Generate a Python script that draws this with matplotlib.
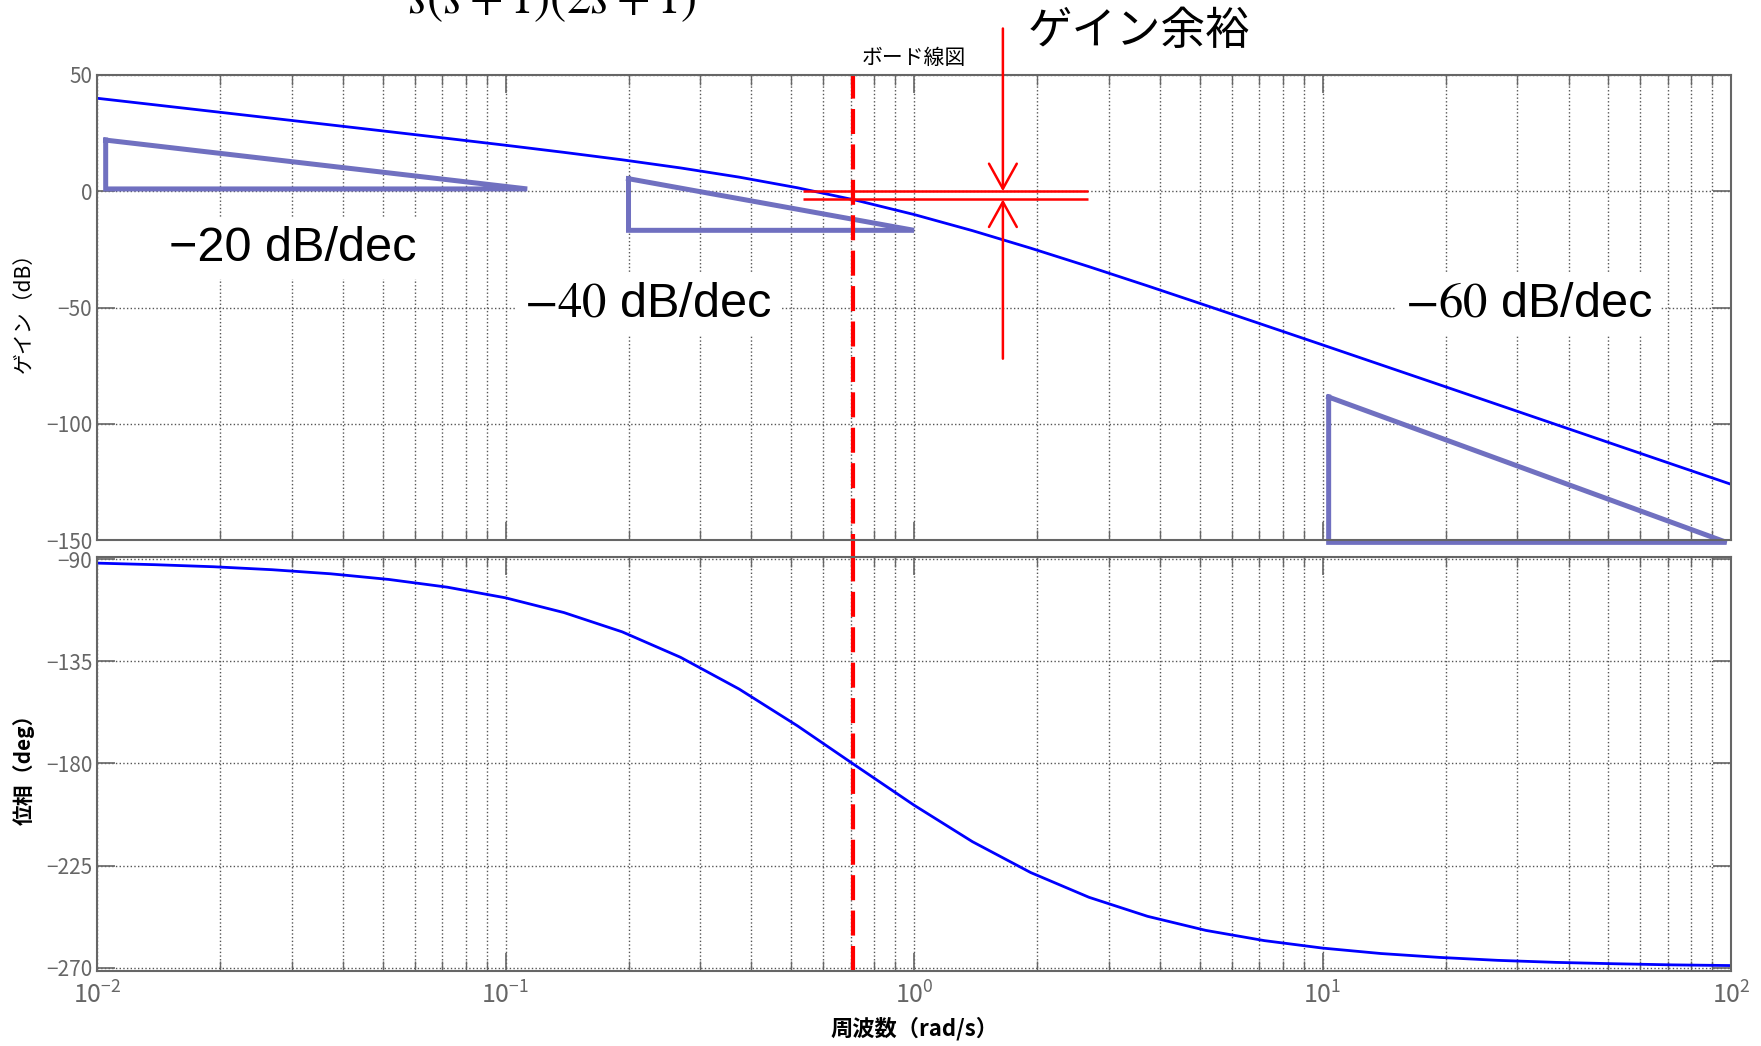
import matplotlib.pyplot as plt
from matplotlib import font_manager

plt.rcParams['font.family'] = ['Noto Sans CJK JP', 'DejaVu Sans']
plt.rcParams['mathtext.fontset'] = 'stix'

# Bode plot readings for G(s) = 1 / (s(s+1)(2s+1))
freq = [0.01, 0.0139, 0.0193, 0.0268, 0.0373, 0.0518, 0.072, 0.1,
        0.139, 0.193, 0.268, 0.373, 0.518, 0.72, 1.0, 1.39, 1.93, 2.68,
        3.73, 5.18, 7.2, 10, 13.9, 19.3, 26.8, 37.3, 51.8, 72, 100]
gain_db = [40.0, 37.14, 34.28, 31.42, 28.54, 25.65, 22.74, 19.79,
           16.73, 13.53, 10.04, 6.08, 1.51, -3.84, -10.0, -16.94, -24.47,
           -32.42, -40.69, -49.08, -57.57, -66.07, -74.63, -83.16, -91.71,
           -100.33, -108.89, -117.47, -126.02]
phase_deg = [-91.7, -92.4, -93.3, -94.6, -96.4, -98.9, -102.3, -107.0,
             -113.5, -122.0, -133.2, -147.2, -163.4, -181.0, -198.4, -214.5,
             -228.1, -239.0, -247.4, -253.6, -258.1, -261.4, -263.8, -265.5,
             -266.8, -267.7, -268.3, -268.8, -269.1]

gain_ticks = [50, 0, -50, -100, -150]
phase_ticks = [-90, -135, -180, -225, -270]

# slope triangles (frequency, dB)
tri20_w = [0.0105, 0.0105, 0.113, 0.0105]
tri20_db = [22, 1, 1, 22]
tri40_w = [0.2, 0.2, 1.0, 0.2]
tri40_db = [5.4, -16.8, -16.8, 5.4]
tri60_w = [10.35, 10.35, 97.5, 10.35]
tri60_db = [-88.5, -151, -151, -88.5]

# gain margin markers
w_pc = 0.707
gm_db = -3.5
gm_span = [0.534, 2.67]
gm_arrow_w = 1.65

blue = '#0000ff'
tri_col = '#7070c0'
gray = '#666666'

names = {f.name for f in font_manager.fontManager.ttflist}
tick_font = 'Liberation Sans Narrow' if 'Liberation Sans Narrow' in names else 'Noto Sans CJK JP'

fig = plt.figure(figsize=(17.61, 10.46), dpi=100)
ax1 = fig.add_axes([0.0551, 0.4837, 0.9279, 0.4446])
ax2 = fig.add_axes([0.0551, 0.0717, 0.9279, 0.3958], sharex=ax1)

for ax in (ax1, ax2):
    ax.set_xscale('log')
    ax.grid(True, which='both', axis='x', ls=':', color='#555555', lw=1.0)
    ax.grid(True, which='major', axis='y', ls=':', color='#555555', lw=1.0)
    ax.tick_params(which='both', direction='in', top=True, right=True,
                   color=gray, labelcolor=gray, labelsize=15,
                   labelfontfamily=tick_font)
    ax.tick_params(which='major', length=13, width=1.2)
    ax.tick_params(which='minor', length=7, width=1.0)
    for s in ax.spines.values():
        s.set_color(gray)
        s.set_linewidth(1.5)

ax1.set_xlim(0.01, 100)

# gain
ax1.plot(freq, gain_db, color=blue, lw=2)
ax1.set_ylim(-150, 50)
ax1.set_yticks(gain_ticks)
ax1.tick_params(labelbottom=False)
ax1.set_ylabel('ゲイン（dB）', fontsize=15)
ax1.yaxis.set_label_coords(-0.038, 0.5)
ax1.set_title('ボード線図', fontsize=15, pad=8)

for tw, tdb in [(tri20_w, tri20_db), (tri40_w, tri40_db), (tri60_w, tri60_db)]:
    ax1.plot(tw, tdb, color=tri_col, lw=3.6, clip_on=False, solid_joinstyle='miter')

box = dict(fc='white', ec='none', pad=6)
ax1.text(0.0301, -24.5, '−20 dB/dec', fontsize=35, family='Liberation Sans',
         ha='center', va='center', bbox=box)
ax1.text(0.223, -48.5, '$-40$ dB/dec', fontsize=35, family='Liberation Sans',
         ha='center', va='center', bbox=box)
ax1.text(31.9, -48.5, '$-60$ dB/dec', fontsize=35, family='Liberation Sans',
         ha='center', va='center', bbox=box)

ax1.hlines([0, gm_db], gm_span[0], gm_span[1], color='red', lw=1.8)
arrow = dict(arrowstyle='->,head_length=0.9,head_width=0.5', color='red',
             lw=1.8, mutation_scale=20, shrinkA=0, shrinkB=0)
ax1.annotate('', xy=(gm_arrow_w, 0), xytext=(gm_arrow_w, 70),
             arrowprops=arrow, annotation_clip=False)
ax1.annotate('', xy=(gm_arrow_w, gm_db), xytext=(gm_arrow_w, -72),
             arrowprops=arrow, annotation_clip=False)

# phase
ax2.plot(freq, phase_deg, color=blue, lw=2)
ax2.set_ylim(-271.5, -89)
ax2.set_yticks(phase_ticks)
ax2.tick_params(axis='x', labelsize=18, pad=8)
ax2.set_ylabel('位相（deg）', fontsize=15, fontweight='bold')
ax2.yaxis.set_label_coords(-0.038, 0.5)
ax2.set_xlabel('周波数（rad/s）', fontsize=16, fontweight='bold')
ax2.xaxis.set_label_coords(0.5, -0.11)

# phase crossover line through both panels
ax1.axvline(w_pc, color='red', lw=3, ls=(0, (6, 2.5)), ymin=-0.04, clip_on=False)
ax2.axvline(w_pc, color='red', lw=3, ls=(0, (6, 2.5)))

fig.text(0.647, 0.970, 'ゲイン余裕', fontsize=32, ha='center', va='center')
fig.text(0.3135, 0.9875, '$s(s+1)(2s+1)$', fontsize=35, ha='center', va='baseline')

fig.savefig('out.png', dpi=100)
